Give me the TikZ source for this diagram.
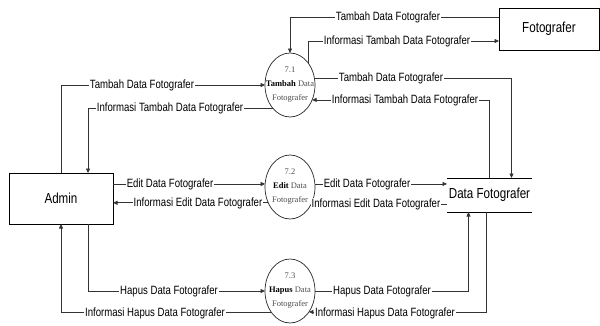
\documentclass[tikz,border=0pt]{standalone}
\usepackage{fontspec}
\setmainfont{Liberation Sans}[FakeStretch=0.8]
\newfontfamily\procfont{Liberation Serif}
\usetikzlibrary{shapes.geometric,arrows.meta,calc}

\begin{document}
\begin{tikzpicture}[x=1pt,y=-1pt,
  flow/.style={draw=black!80,line width=0.7pt,-{Triangle[length=4.5pt,width=4pt]}},
  lbl/.style={fill=white,inner xsep=1.2pt,inner ysep=0.5pt,font=\fontsize{12}{12}\selectfont},
  proc/.style={ellipse,draw=black!85,line width=0.7pt,minimum width=50pt,minimum height=64pt,inner sep=0pt,outer sep=0pt},
  proctext/.style={align=center,font=\procfont\fontsize{8.5}{14}\selectfont,text=black!70,inner sep=0pt},
  entity/.style={draw=black,line width=0.8pt,inner sep=0pt,outer sep=0pt,font=\fontsize{14.5}{14.5}\selectfont},
  store/.style={inner sep=0pt,outer sep=0pt,minimum width=85pt,minimum height=34pt,font=\fontsize{14.5}{14.5}\selectfont},
]
\useasboundingbox (0,0) rectangle (600,325);

% external entities and data store
\node[entity,minimum width=104pt,minimum height=51pt] (admin) at (61,198.5) {Admin};
\node[entity,minimum width=100pt,minimum height=42pt] (foto) at (549,29) {Fotografer};
\node[store] (df) at (489.5,195) {Data Fotografer};
\draw[black,line width=0.8pt] (df.north west) -- (df.north east);
\draw[black,line width=0.8pt] (df.south west) -- (df.south east);

% processes
\node[proc] (p1) at (290,85) {};
\node[proc] (p2) at (290,187) {};
\node[proc] (p3) at (290,291) {};
\node[proctext] (p1t) at (p1) {7.1\\\textcolor{black}{\textbf{Tambah}} Data\\Fotografer};
\node[proctext] (p2t) at (p2) {7.2\\\textcolor{black}{\textbf{Edit}} Data\\Fotografer};
\node[proctext] (p3t) at (p3) {7.3\\\textcolor{black}{\textbf{Hapus}} Data\\Fotografer};

% 7.1 flows
\draw[flow] ($(foto.west)+(0,-12)$) -| (p1.north);
\draw[flow] (p1.51) |- ($(foto.west)+(0,12)$);
\draw[flow] (p1.16) -| ($(df.north)+(22,0)$);
\draw[flow] (df.north) |- (p1.326);
\draw[flow] (admin.north) |- (p1.west);
\draw[flow] (p1.233) -| ($(admin.north)+(27,0)$);

% 7.2 flows
\draw[flow] (p2.173 -| admin.east) -- (p2.173);
\draw[flow] (p2.216) -- (p2.216 -| admin.east);
\draw[flow] (p2.7) -- (p2.7 -| df.west);
\draw[flow] (p2.321 -| df.west) -- (p2.321);

% 7.3 flows
\draw[flow] ($(admin.south)+(27,0)$) |- (p3.west);
\draw[flow] (p3.228) -| (admin.south);
\draw[flow] (p3.east) -| ($(df.south)+(-21,0)$);
\draw[flow] ($(df.south)+(-3,0)$) |- (p3.312);

% flow labels
\node[lbl] (l1) at (388,17) {Tambah Data Fotografer};
\node[lbl] (l2) at (397,41) {Informasi Tambah Data Fotografer};
\node[lbl] (l3) at (391,78) {Tambah Data Fotografer};
\node[lbl] (l4) at (405,100) {Informasi Tambah Data Fotografer};
\node[lbl] (l5) at (142,85) {Tambah Data Fotografer};
\node[lbl] (l6) at (170,108) {Informasi Tambah Data Fotografer};
\node[lbl] (l7) at (170,184) {Edit Data Fotografer};
\node[lbl] (l8) at (198,203) {Informasi Edit Data Fotografer};
\node[lbl] (l9) at (367,184) {Edit Data Fotografer};
\node[lbl] (l10) at (376,204) {Informasi Edit Data Fotografer};
\node[lbl] (l11) at (169,291) {Hapus Data Fotografer};
\node[lbl] (l12) at (155,313) {Informasi Hapus Data Fotografer};
\node[lbl] (l13) at (382,291) {Hapus Data Fotografer};
\node[lbl] (l14) at (385,313) {Informasi Hapus Data Fotografer};
\end{tikzpicture}
\end{document}
